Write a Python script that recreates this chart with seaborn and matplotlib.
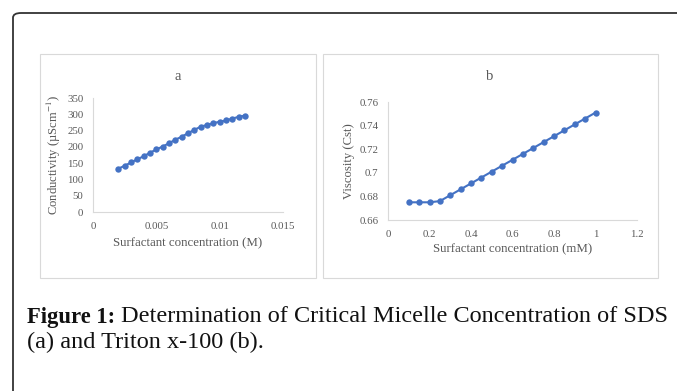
import matplotlib
matplotlib.use("Agg")
import matplotlib.pyplot as plt
from matplotlib.patches import Rectangle, FancyBboxPatch
import seaborn as sns
import pandas as pd

# panel a: SDS conductivity
sds_conc = [0.002, 0.0025, 0.003, 0.0035, 0.004, 0.0045, 0.005, 0.0055, 0.006,
            0.0065, 0.007, 0.0075, 0.008, 0.0085, 0.009, 0.0095, 0.01, 0.0105,
            0.011, 0.0115, 0.012]
sds_cond = [133, 142, 152, 162, 171, 182, 192, 201, 211, 222, 231, 242, 252,
            262, 267, 273, 277, 281, 287, 292, 296]

# panel b: Triton x-100 viscosity
tx_conc = [0.1, 0.15, 0.2, 0.25, 0.3, 0.35, 0.4, 0.45, 0.5, 0.55, 0.6, 0.65,
           0.7, 0.75, 0.8, 0.85, 0.9, 0.95, 1.0]
tx_visc = [0.675, 0.675, 0.675, 0.676, 0.681, 0.686, 0.691, 0.696, 0.701,
           0.706, 0.711, 0.716, 0.721, 0.726, 0.731, 0.736, 0.741, 0.746, 0.751]

a_xticks = [0, 0.005, 0.01, 0.015]
a_xlabels = ["0", "0.005", "0.01", "0.015"]
a_yticks = [0, 50, 100, 150, 200, 250, 300, 350]
b_xticks = [0, 0.2, 0.4, 0.6, 0.8, 1.0, 1.2]
b_xlabels = ["0", "0.2", "0.4", "0.6", "0.8", "1", "1.2"]
b_yticks = [0.66, 0.68, 0.70, 0.72, 0.74, 0.76]
b_ylabels = ["0.66", "0.68", "0.7", "0.72", "0.74", "0.76"]

sns.set_style("white")
plt.rcParams["font.family"] = ["Liberation Serif", "DejaVu Serif"]
plt.rcParams["mathtext.fontset"] = "stix"

W, H = 677, 391
fig = plt.figure(figsize=(W / 100, H / 100), dpi=100)

def fx(px):
    return px / W

def fy(py):
    return 1 - py / H

# outer frame with rounded corner (runs off right and bottom edges)
frame = FancyBboxPatch((fx(13), fy(430)), fx(720) - fx(13), fy(13) - fy(430),
                       boxstyle="round,pad=0,rounding_size=0.012",
                       transform=fig.transFigure, fill=False,
                       edgecolor="#333333", linewidth=1.3, clip_on=False)
fig.add_artist(frame)

# panel boxes
for x0, x1 in [(40, 316), (323, 658)]:
    fig.add_artist(Rectangle((fx(x0), fy(278)), fx(x1) - fx(x0), fy(54) - fy(278),
                             transform=fig.transFigure, fill=False,
                             edgecolor="#d9d9d9", linewidth=0.8))

blue = "#4472c4"
grey = "#595959"
spine_c = "#d9d9d9"

def style(ax):
    sns.despine(ax=ax)
    for s in ["left", "bottom"]:
        ax.spines[s].set_color(spine_c)
        ax.spines[s].set_linewidth(0.8)
    ax.tick_params(length=0, labelsize=7.8, colors=grey, pad=7)
    ax.grid(False)

# panel a
ax1 = fig.add_axes([fx(93), fy(212), fx(283) - fx(93), fy(98) - fy(212)])
df_a = pd.DataFrame({"conc": sds_conc, "cond": sds_cond})
sns.lineplot(data=df_a, x="conc", y="cond", ax=ax1, color=blue, linewidth=1.5,
             marker="o", markersize=4.6, markeredgewidth=0)
ax1.set_xlim(0, 0.015)
ax1.set_ylim(0, 350)
ax1.set_xticks(a_xticks, a_xlabels)
ax1.set_yticks(a_yticks)
ax1.set_xlabel("Surfactant concentration (M)", fontsize=9.3, color=grey, labelpad=5)
ax1.set_ylabel(r"Conductivity (µScm$^{-1}$)", fontsize=9.1, color=grey, labelpad=3)
style(ax1)
fig.text(fx(178), fy(76), "a", fontsize=10.5, color=grey, ha="center", va="center")

# panel b
ax2 = fig.add_axes([fx(388), fy(220), fx(637) - fx(388), fy(102) - fy(220)])
df_b = pd.DataFrame({"conc": tx_conc, "visc": tx_visc})
sns.lineplot(data=df_b, x="conc", y="visc", ax=ax2, color=blue, linewidth=1.5,
             marker="o", markersize=4.6, markeredgewidth=0)
ax2.set_xlim(0, 1.2)
ax2.set_ylim(0.66, 0.76)
ax2.set_xticks(b_xticks, b_xlabels)
ax2.set_yticks(b_yticks, b_ylabels)
ax2.set_xlabel("Surfactant concentration (mM)", fontsize=9.3, color=grey, labelpad=3)
ax2.set_ylabel("Viscosity (Cst)", fontsize=9.1, color=grey, labelpad=3)
style(ax2)
fig.text(fx(490), fy(77), "b", fontsize=10.5, color=grey, ha="center", va="center")

# caption
cap_size = 17.5
fig.text(fx(27), fy(317), "Figure 1:", fontsize=16.3, fontweight="bold",
         color="#111111", ha="left", va="center")
fig.text(fx(121), fy(317), "Determination of Critical Micelle Concentration of SDS",
         fontsize=cap_size, color="#111111", ha="left", va="center")
fig.text(fx(27), fy(342), "(a) and Triton x-100 (b).", fontsize=cap_size,
         color="#111111", ha="left", va="center")

fig.savefig("out.png", dpi=100)
